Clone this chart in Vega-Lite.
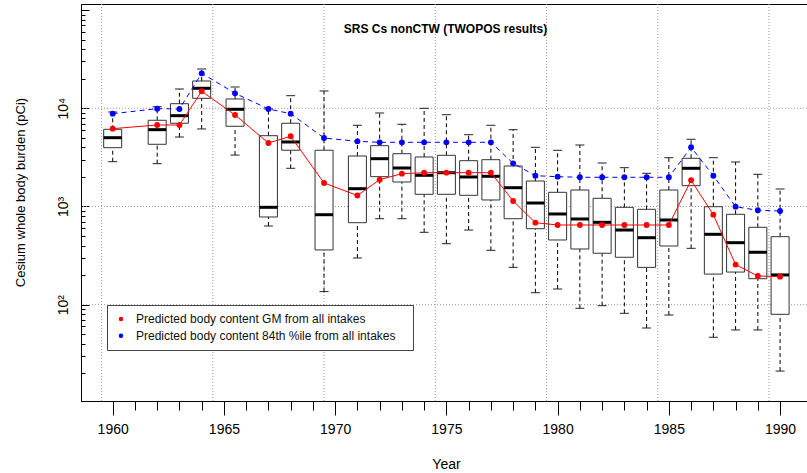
{
  "$schema": "https://vega.github.io/schema/vega-lite/v6.json",
  "width": 729,
  "height": 397,
  "autosize": {"type": "none"},
  "padding": {"left": 81, "top": 4, "right": -3, "bottom": 72},
  "background": "white",
  "config": {
    "font": "Liberation Sans",
    "view": {"stroke": "black", "strokeWidth": 1},
    "axis": {"grid": false, "domainColor": "black", "tickColor": "black", "labelColor": "black", "titleColor": "black", "labelFont": "Liberation Sans", "titleFont": "Liberation Sans", "titleFontWeight": "normal", "labelOverlap": false, "labelFlush": false, "labelBound": false}
  },
  "title": {"text": "SRS Cs nonCTW (TWOPOS results)", "fontSize": 12, "fontWeight": "bold", "font": "Liberation Sans", "anchor": "middle", "offset": -41, "baseline": "alphabetic", "color": "black"},
  "resolve": {"axis": {"x": "independent", "y": "independent"}},
  "datasets": {
    "boxes": [
      {"year": 1960, "lo": 2860, "q1": 3970, "med": 5020, "q3": 6110, "hi": 9170, "gm": 6200, "p84": 8810},
      {"year": 1962, "lo": 2730, "q1": 4300, "med": 6060, "q3": 7550, "hi": 10380, "gm": 6760, "p84": 9910},
      {"year": 1963, "lo": 5100, "q1": 7040, "med": 8410, "q3": 11140, "hi": 15720, "gm": 6760, "p84": 9840},
      {"year": 1964, "lo": 6160, "q1": 12640, "med": 15990, "q3": 18970, "hi": 25130, "gm": 14900, "p84": 22720},
      {"year": 1965.5, "lo": 3340, "q1": 6560, "med": 9770, "q3": 12440, "hi": 16480, "gm": 8550, "p84": 14210},
      {"year": 1967, "lo": 633, "q1": 782, "med": 981, "q3": 5260, "hi": 9840, "gm": 4430, "p84": 9840},
      {"year": 1968, "lo": 2450, "q1": 3740, "med": 4540, "q3": 7040, "hi": 13440, "gm": 5190, "p84": 8810},
      {"year": 1969.5, "lo": 136, "q1": 361, "med": 825, "q3": 3740, "hi": 15010, "gm": 1735, "p84": 4980},
      {"year": 1971, "lo": 299, "q1": 684, "med": 1518, "q3": 3267, "hi": 6713, "gm": 1294, "p84": 4613},
      {"year": 1972, "lo": 751, "q1": 2012, "med": 3068, "q3": 4160, "hi": 8956, "gm": 1875, "p84": 4506},
      {"year": 1973, "lo": 751, "q1": 1776, "med": 2466, "q3": 3449, "hi": 6873, "gm": 2158, "p84": 4506},
      {"year": 1974, "lo": 546, "q1": 1331, "med": 2078, "q3": 3192, "hi": 10000, "gm": 2209, "p84": 4506},
      {"year": 1975, "lo": 418, "q1": 1331, "med": 2209, "q3": 3322, "hi": 8607, "gm": 2209, "p84": 4506},
      {"year": 1976, "lo": 576, "q1": 1300, "med": 1998, "q3": 2927, "hi": 5385, "gm": 2209, "p84": 4506},
      {"year": 1977, "lo": 358, "q1": 1165, "med": 2030, "q3": 2997, "hi": 6713, "gm": 2209, "p84": 4506},
      {"year": 1978, "lo": 240, "q1": 751, "med": 1554, "q3": 2584, "hi": 6055, "gm": 1138, "p84": 2754},
      {"year": 1979, "lo": 132.5, "q1": 594, "med": 1085, "q3": 1818, "hi": 4008, "gm": 684, "p84": 2059},
      {"year": 1980, "lo": 144.5, "q1": 456, "med": 839, "q3": 1395, "hi": 3735, "gm": 648, "p84": 2012},
      {"year": 1981, "lo": 91.9, "q1": 369, "med": 746, "q3": 1472, "hi": 4229, "gm": 648, "p84": 1984},
      {"year": 1982, "lo": 97.7, "q1": 334, "med": 690, "q3": 1212, "hi": 2773, "gm": 648, "p84": 1984},
      {"year": 1983, "lo": 81.7, "q1": 304, "med": 576, "q3": 981, "hi": 2484, "gm": 648, "p84": 1984},
      {"year": 1984, "lo": 57.9, "q1": 240, "med": 481, "q3": 936, "hi": 2178, "gm": 648, "p84": 1984},
      {"year": 1985, "lo": 78.5, "q1": 396, "med": 729, "q3": 1472, "hi": 3140, "gm": 648, "p84": 1984},
      {"year": 1986, "lo": 375, "q1": 1629, "med": 2449, "q3": 3096, "hi": 4834, "gm": 1849, "p84": 4008},
      {"year": 1987, "lo": 46.6, "q1": 205, "med": 521, "q3": 995, "hi": 3140, "gm": 825, "p84": 2059},
      {"year": 1988, "lo": 55.3, "q1": 215, "med": 428, "q3": 833, "hi": 2839, "gm": 256, "p84": 995},
      {"year": 1989, "lo": 55.3, "q1": 184, "med": 342, "q3": 614, "hi": 2128, "gm": 196, "p84": 915},
      {"year": 1990, "lo": 21.1, "q1": 79.8, "med": 201, "q3": 493, "hi": 1508, "gm": 193, "p84": 900}
    ],
    "vgrid": [{"g": 1959.5}, {"g": 1964.5}, {"g": 1969.5}, {"g": 1974.5}, {"g": 1979.5}, {"g": 1984.5}, {"g": 1989.5}],
    "hgrid": [{"v": 100}, {"v": 1000}, {"v": 10000}]
  },
  "layer": [
    {
      "data": {"name": "vgrid"},
      "mark": {"type": "rule", "color": "#999999", "strokeDash": [1, 2], "strokeWidth": 1},
      "encoding": {
        "x": {"field": "g", "type": "quantitative", "scale": {"domain": [1958.8, 1991.12], "nice": false, "zero": false}, "axis": null}
      }
    },
    {
      "data": {"name": "hgrid"},
      "mark": {"type": "rule", "color": "#999999", "strokeDash": [1, 2], "strokeWidth": 1},
      "encoding": {
        "y": {"field": "v", "type": "quantitative", "scale": {"type": "log", "domain": [10.455, 115360], "nice": false, "zero": false}, "axis": null}
      }
    },
    {
      "data": {"name": "boxes"},
      "mark": {"type": "rule", "color": "black", "strokeDash": [4, 3], "strokeWidth": 1},
      "encoding": {
        "x": {"field": "year", "type": "quantitative", "scale": {"domain": [1958.8, 1991.12], "nice": false, "zero": false}, "axis": null},
        "y": {"field": "q3", "type": "quantitative", "scale": {"type": "log", "domain": [10.455, 115360], "nice": false, "zero": false}, "axis": null},
        "y2": {"field": "hi"}
      }
    },
    {
      "data": {"name": "boxes"},
      "mark": {"type": "rule", "color": "black", "strokeDash": [4, 3], "strokeWidth": 1},
      "encoding": {
        "x": {"field": "year", "type": "quantitative", "scale": {"domain": [1958.8, 1991.12], "nice": false, "zero": false}, "axis": null},
        "y": {"field": "lo", "type": "quantitative", "scale": {"type": "log", "domain": [10.455, 115360], "nice": false, "zero": false}, "axis": null},
        "y2": {"field": "q1"}
      }
    },
    {
      "data": {"name": "boxes"},
      "mark": {"type": "tick", "orient": "horizontal", "size": 9, "thickness": 1, "color": "#222222", "opacity": 1},
      "encoding": {
        "x": {"field": "year", "type": "quantitative", "scale": {"domain": [1958.8, 1991.12], "nice": false, "zero": false}, "axis": null},
        "y": {"field": "hi", "type": "quantitative", "scale": {"type": "log", "domain": [10.455, 115360], "nice": false, "zero": false}, "axis": null}
      }
    },
    {
      "data": {"name": "boxes"},
      "mark": {"type": "tick", "orient": "horizontal", "size": 9, "thickness": 1, "color": "#222222", "opacity": 1},
      "encoding": {
        "x": {"field": "year", "type": "quantitative", "scale": {"domain": [1958.8, 1991.12], "nice": false, "zero": false}, "axis": null},
        "y": {"field": "lo", "type": "quantitative", "scale": {"type": "log", "domain": [10.455, 115360], "nice": false, "zero": false}, "axis": null}
      }
    },
    {
      "data": {"name": "boxes"},
      "mark": {"type": "bar", "size": 18, "fill": "white", "stroke": "#333333", "strokeWidth": 1},
      "encoding": {
        "x": {
          "field": "year", "type": "quantitative",
          "scale": {"domain": [1958.8, 1991.12], "nice": false, "zero": false},
          "axis": {
            "orient": "bottom",
            "values": [1960, 1965, 1970, 1975, 1980, 1985, 1990],
            "format": "d",
            "tickSize": 14,
            "labelFontSize": 14,
            "labelPadding": 7,
            "title": "Year",
            "titleFontSize": 14,
            "titleX": 365,
            "titleY": 67,
            "titleBaseline": "alphabetic"
          }
        },
        "y": {
          "field": "q1", "type": "quantitative",
          "scale": {"type": "log", "domain": [10.455, 115360], "nice": false, "zero": false},
          "axis": {
            "orient": "left",
            "values": [100, 1000, 10000, 100000],
            "labelExpr": "datum.value == 100 ? '10²' : datum.value == 1000 ? '10³' : datum.value == 10000 ? '10⁴' : ''",
            "tickSize": -8,
            "labelAngle": -90,
            "labelAlign": "center",
            "labelBaseline": "alphabetic",
            "labelFontSize": 14,
            "labelPadding": 22,
            "title": "Cesium whole body burden (pCi)",
            "titleFontSize": 13,
            "titleAngle": -90,
            "titleX": -57,
            "titleY": 188,
            "titleAlign": "center",
            "titleBaseline": "alphabetic"
          }
        },
        "y2": {"field": "q3"}
      }
    },
    {
      "data": {"name": "boxes"},
      "mark": {"type": "tick", "orient": "horizontal", "size": 18, "thickness": 3, "color": "black", "opacity": 1},
      "encoding": {
        "x": {
          "field": "year", "type": "quantitative",
          "scale": {"domain": [1958.8, 1991.12], "nice": false, "zero": false},
          "axis": {
            "orient": "bottom",
            "values": [1961, 1962, 1963, 1964, 1966, 1967, 1968, 1969, 1971, 1972, 1973, 1974, 1976, 1977, 1978, 1979, 1981, 1982, 1983, 1984, 1986, 1987, 1988, 1989],
            "tickSize": 9,
            "labels": false,
            "domain": false,
            "title": null
          }
        },
        "y": {
          "field": "med", "type": "quantitative",
          "scale": {"type": "log", "domain": [10.455, 115360], "nice": false, "zero": false},
          "axis": {
            "orient": "left",
            "values": [20, 30, 40, 50, 60, 70, 80, 90, 200, 300, 400, 500, 600, 700, 800, 900, 2000, 3000, 4000, 5000, 6000, 7000, 8000, 9000, 20000, 30000, 40000, 50000, 60000, 70000, 80000, 90000],
            "tickSize": -4,
            "labels": false,
            "domain": false,
            "title": null
          }
        }
      }
    },
    {
      "data": {"name": "boxes"},
      "mark": {"type": "line", "color": "#FF0000", "strokeWidth": 1},
      "encoding": {
        "x": {"field": "year", "type": "quantitative", "scale": {"domain": [1958.8, 1991.12], "nice": false, "zero": false}, "axis": null},
        "y": {"field": "gm", "type": "quantitative", "scale": {"type": "log", "domain": [10.455, 115360], "nice": false, "zero": false}, "axis": null}
      }
    },
    {
      "data": {"name": "boxes"},
      "mark": {"type": "line", "color": "#0000FF", "strokeWidth": 1, "strokeDash": [5, 4]},
      "encoding": {
        "x": {"field": "year", "type": "quantitative", "scale": {"domain": [1958.8, 1991.12], "nice": false, "zero": false}, "axis": null},
        "y": {"field": "p84", "type": "quantitative", "scale": {"type": "log", "domain": [10.455, 115360], "nice": false, "zero": false}, "axis": null}
      }
    },
    {
      "data": {"name": "boxes"},
      "mark": {"type": "point", "filled": true, "size": 34, "opacity": 1, "shape": "circle"},
      "encoding": {
        "x": {"field": "year", "type": "quantitative", "scale": {"domain": [1958.8, 1991.12], "nice": false, "zero": false}, "axis": null},
        "y": {"field": "gm", "type": "quantitative", "scale": {"type": "log", "domain": [10.455, 115360], "nice": false, "zero": false}, "axis": null},
        "color": {
          "datum": "Predicted body content GM from all intakes",
          "type": "nominal",
          "scale": {"domain": ["Predicted body content GM from all intakes", "Predicted body content 84th %ile from all intakes"], "range": ["#FF0000", "#0000FF"]},
          "legend": {
            "orient": "none", "legendX": 26, "legendY": 301, "title": null,
            "strokeColor": "#444444", "fillColor": "white", "padding": 8,
            "labelFontSize": 12, "labelFont": "Liberation Sans", "labelColor": "#111111",
            "symbolType": "circle", "symbolSize": 20, "symbolStrokeWidth": 0,
            "labelOffset": 9, "rowPadding": 4.7,
            "labelExpr": "datum.label + '\u2800'", "labelLimit": 400
          }
        }
      }
    },
    {
      "data": {"name": "boxes"},
      "mark": {"type": "point", "filled": true, "size": 34, "opacity": 1, "shape": "circle"},
      "encoding": {
        "x": {"field": "year", "type": "quantitative", "scale": {"domain": [1958.8, 1991.12], "nice": false, "zero": false}, "axis": null},
        "y": {"field": "p84", "type": "quantitative", "scale": {"type": "log", "domain": [10.455, 115360], "nice": false, "zero": false}, "axis": null},
        "color": {"datum": "Predicted body content 84th %ile from all intakes", "type": "nominal"}
      }
    }
  ]
}
